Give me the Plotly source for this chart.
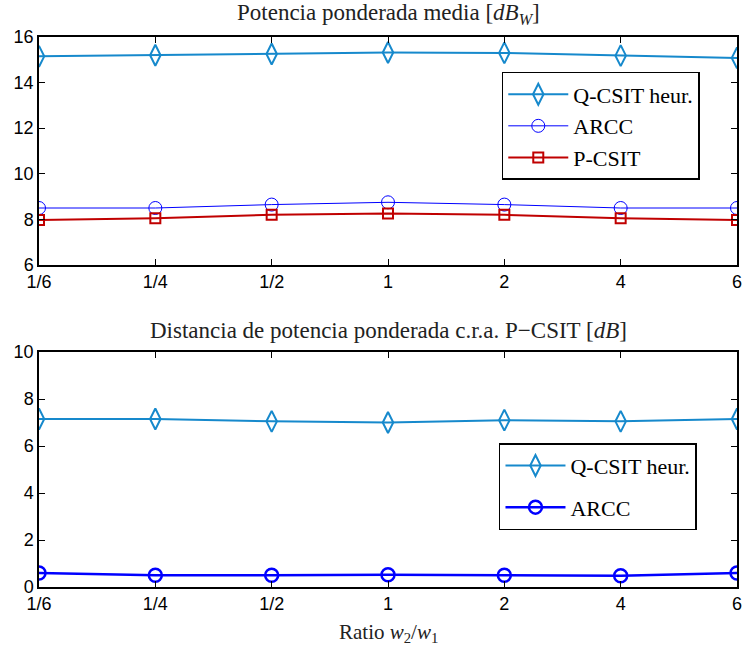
import plotly.graph_objects as go

categories = ["1/6", "1/4", "1/2", "1", "2", "4", "6"]
top_qcsit = [15.15, 15.2, 15.25, 15.32, 15.3, 15.18, 15.08]
top_arcc = [8.5, 8.5, 8.65, 8.75, 8.65, 8.5, 8.5]
top_pcsit = [7.97, 8.05, 8.2, 8.26, 8.2, 8.05, 7.97]
bot_qcsit = [7.15, 7.15, 7.05, 7.0, 7.1, 7.05, 7.15]
bot_arcc = [0.6, 0.5, 0.5, 0.52, 0.5, 0.48, 0.6]

xpos = list(range(len(categories)))
C_Q = "#1689cc"
C_A = "#0000ff"
C_P = "#c00000"
serif = "Liberation Serif"
sans = "Liberation Sans"

fig = go.Figure()
fig.add_trace(go.Scatter(x=xpos, y=top_qcsit, mode="lines+markers", name="Q-CSIT heur.",
                         line=dict(color=C_Q, width=2),
                         marker=dict(symbol="diamond-tall-open", size=15, color=C_Q, line=dict(width=2)),
                         xaxis="x", yaxis="y", legend="legend"))
fig.add_trace(go.Scatter(x=xpos, y=top_arcc, mode="lines+markers", name="ARCC",
                         line=dict(color=C_A, width=1),
                         marker=dict(symbol="circle-open", size=13, color=C_A, line=dict(width=1)),
                         xaxis="x", yaxis="y", legend="legend"))
fig.add_trace(go.Scatter(x=xpos, y=top_pcsit, mode="lines+markers", name="P-CSIT",
                         line=dict(color=C_P, width=2),
                         marker=dict(symbol="square-open", size=10, color=C_P, line=dict(width=2)),
                         xaxis="x", yaxis="y", legend="legend"))
fig.add_trace(go.Scatter(x=xpos, y=bot_qcsit, mode="lines+markers", name="Q-CSIT heur.",
                         line=dict(color=C_Q, width=2),
                         marker=dict(symbol="diamond-tall-open", size=15, color=C_Q, line=dict(width=2)),
                         xaxis="x2", yaxis="y2", legend="legend2", legendgroup="g1"))
fig.add_trace(go.Scatter(x=xpos, y=bot_arcc, mode="lines+markers", name="ARCC",
                         line=dict(color=C_A, width=2.5),
                         marker=dict(symbol="circle-open", size=13, color=C_A, line=dict(width=2.5)),
                         xaxis="x2", yaxis="y2", legend="legend2", legendgroup="g2"))

ax_common = dict(showline=True, mirror="ticks", linecolor="black", linewidth=1.5,
                 ticks="inside", ticklen=6, tickcolor="black", showgrid=False, zeroline=False,
                 automargin=False, ticklabeloverflow="allow",
                 tickfont=dict(family=sans, size=18, color="black"))

fig.update_layout(
    width=742, height=648,
    margin=dict(l=39, r=5, t=0, b=0),
    paper_bgcolor="white", plot_bgcolor="white",
    xaxis=dict(domain=[0, 1], anchor="y", range=[0, 6], tickmode="array",
               tickvals=xpos, ticktext=categories, **ax_common),
    yaxis=dict(domain=[0.591, 0.943], anchor="x", range=[6, 16], dtick=2, **ax_common),
    xaxis2=dict(domain=[0, 1], anchor="y2", range=[0, 6], tickmode="array",
                tickvals=xpos, ticktext=categories, **ax_common),
    yaxis2=dict(domain=[0.0941, 0.4568], anchor="x2", range=[0, 10], dtick=2, **ax_common),
    legend=dict(x=0.663, y=0.889, xanchor="left", yanchor="top", bgcolor="white",
                bordercolor="black", borderwidth=1.5, itemwidth=60,
                font=dict(family=serif, size=22, color="black")),
    legend2=dict(x=0.659, y=0.316, xanchor="left", yanchor="top", bgcolor="white",
                 bordercolor="black", borderwidth=1.5, itemwidth=60, tracegroupgap=10,
                 font=dict(family=serif, size=22, color="black")),
    annotations=[
        dict(text="Potencia ponderada media [<i>dB</i><sub><i>W</i></sub>]", x=0.5, y=1 - 14 / 648,
             xref="paper", yref="paper", showarrow=False, xanchor="center", yanchor="middle",
             font=dict(family=serif, size=23, color="#222")),
        dict(text="Distancia de potencia ponderada c.r.a. P\u2212CSIT [<i>dB</i>]", x=0.5, y=1 - 330 / 648,
             xref="paper", yref="paper", showarrow=False, xanchor="center", yanchor="middle",
             font=dict(family=serif, size=23, color="#222")),
        dict(text="Ratio <i>w</i><sub>2</sub>/<i>w</i><sub>1</sub>", x=0.5, y=1 - 633 / 648,
             xref="paper", yref="paper", showarrow=False, xanchor="center", yanchor="middle",
             font=dict(family=serif, size=21, color="#222")),
    ],
)

fig.write_html("out.html")
